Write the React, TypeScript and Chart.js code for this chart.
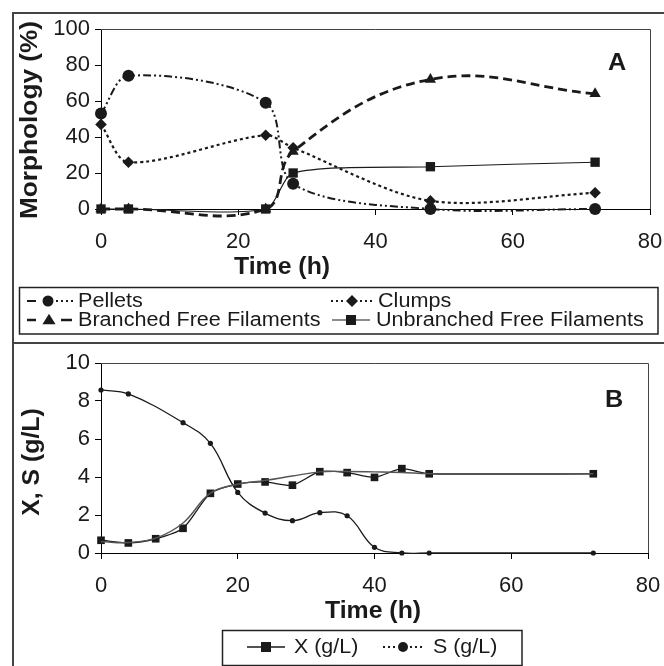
import React, { useEffect, useRef } from "react";
import { Chart, registerables } from "chart.js";

Chart.register(...registerables);

// ---------- Panel A data (Morphology %) ----------
const hoursA = [0, 4, 24, 28, 48, 72];
const pellets = [53, 74, 59, 14, 0, 0];
const clumps = [47, 26, 41, 34, 4.5, 9];
const branched = [0, 0, 0, 32, 72, 64];
const unbranched = [0, 0, 0, 20, 23.5, 26];
const labelsA = ["Pellets", "Clumps", "Branched Free Filaments", "Unbranched Free Filaments"];

// ---------- Panel B data (X, S g/L) ----------
const hoursX = [0, 4, 8, 12, 16, 20, 24, 28, 32, 36, 40, 44, 48, 72];
const biomassX = [0.67, 0.53, 0.75, 1.3, 3.14, 3.63, 3.74, 3.57, 4.28, 4.23, 3.98, 4.44, 4.17, 4.17];
const biomassFit = [0.6, 0.55, 0.78, 1.58, 3.15, 3.62, 3.82, 4.05, 4.27, 4.29, 4.27, 4.24, 4.18, 4.17];
const hoursS = [0, 4, 12, 16, 20, 24, 28, 32, 36, 40, 44, 48, 72];
const substrateS = [8.58, 8.37, 6.86, 5.77, 3.19, 2.1, 1.7, 2.12, 1.96, 0.3, 0, 0, 0];
const labelsB = ["X (g/L)", "S (g/L)"];

const FAMILY = "'Liberation Sans', Arial, Helvetica, sans-serif";
const INK = "#1a1a1a";

const pts = (xs: number[], ys: number[]) => xs.map((x, i) => ({ x, y: ys[i] }));

function drawText(ctx: CanvasRenderingContext2D, s: string, x: number, y: number, font: string, sx = 1, rotate = false, align: CanvasTextAlign = "center") {
  ctx.save();
  ctx.translate(x, y);
  if (rotate) ctx.rotate(-Math.PI / 2);
  ctx.scale(sx, 1);
  ctx.font = font;
  ctx.fillStyle = INK;
  ctx.textAlign = align;
  ctx.textBaseline = "middle";
  ctx.fillText(s, 0, 0);
  ctx.restore();
}

function drawMarker(ctx: CanvasRenderingContext2D, style: string, x: number, y: number, r: number) {
  ctx.save();
  ctx.fillStyle = INK;
  ctx.beginPath();
  if (style === "circle") {
    ctx.arc(x, y, r, 0, Math.PI * 2);
  } else if (style === "rectRot") {
    ctx.moveTo(x - r, y);
    ctx.lineTo(x, y - r);
    ctx.lineTo(x + r, y);
    ctx.lineTo(x, y + r);
    ctx.closePath();
  } else if (style === "triangle") {
    const h = r * 1.6;
    ctx.moveTo(x, y - h * 0.6);
    ctx.lineTo(x + r, y + h * 0.4);
    ctx.lineTo(x - r, y + h * 0.4);
    ctx.closePath();
  } else {
    ctx.rect(x - r, y - r, 2 * r, 2 * r);
  }
  ctx.fill();
  ctx.restore();
}

function seg(ctx: CanvasRenderingContext2D, x1: number, x2: number, y: number, dash: number[], width: number) {
  ctx.save();
  ctx.strokeStyle = INK;
  ctx.lineWidth = width;
  ctx.setLineDash(dash);
  ctx.beginPath();
  ctx.moveTo(x1, y);
  ctx.lineTo(x2, y);
  ctx.stroke();
  ctx.restore();
}

function frameBorder(chart: any) {
  const { ctx, chartArea: a } = chart;
  ctx.save();
  ctx.strokeStyle = "#444";
  ctx.lineWidth = 1;
  ctx.beginPath();
  ctx.moveTo(a.left, a.top + 0.5);
  ctx.lineTo(a.right + 0.5, a.top + 0.5);
  ctx.lineTo(a.right + 0.5, a.bottom);
  ctx.stroke();
  ctx.restore();
}

const decorA = {
  id: "decorA",
  beforeDatasetsDraw(chart: any) {
    frameBorder(chart);
  },
  afterDraw(chart: any) {
    const ctx: CanvasRenderingContext2D = chart.ctx;
    ctx.save();
    ctx.strokeStyle = "#444";
    ctx.lineWidth = 2;
    ctx.beginPath();
    ctx.moveTo(664, 13);
    ctx.lineTo(13, 13);
    ctx.lineTo(13, 342);
    ctx.stroke();
    ctx.restore();
    drawText(ctx, "Morphology (%)", 31, 120, `bold 23px ${FAMILY}`, 1.14, true);
    drawText(ctx, "Time (h)", 282, 268, `bold 23px ${FAMILY}`, 1.08);
    drawText(ctx, "A", 617, 63, `bold 24px ${FAMILY}`, 1.05);
    ctx.save();
    ctx.strokeStyle = "#222";
    ctx.lineWidth = 1.5;
    ctx.strokeRect(19.5, 287.5, 638.5, 46.5);
    ctx.restore();
    const f = `20px ${FAMILY}`;
    seg(ctx, 27, 36, 301, [], 2);
    seg(ctx, 56, 75, 301, [2, 3], 2);
    drawMarker(ctx, "circle", 48, 301, 5.5);
    drawText(ctx, labelsA[0], 78, 301, f, 1.08, false, "left");
    seg(ctx, 331, 344, 301, [2, 3], 2);
    seg(ctx, 360, 374, 301, [2, 3], 2);
    drawMarker(ctx, "rectRot", 352, 301, 6);
    drawText(ctx, labelsA[1], 378, 301, f, 1.08, false, "left");
    seg(ctx, 27, 36, 320, [], 2.5);
    seg(ctx, 61, 72, 320, [], 2.5);
    drawMarker(ctx, "triangle", 49, 320, 6.5);
    drawText(ctx, labelsA[2], 78, 320, f, 1.08, false, "left");
    seg(ctx, 332, 370, 320, [], 1.2);
    drawMarker(ctx, "rect", 351, 320, 5);
    drawText(ctx, labelsA[3], 376, 320, f, 1.08, false, "left");
  },
};

const decorB = {
  id: "decorB",
  beforeDatasetsDraw(chart: any) {
    frameBorder(chart);
  },
  afterDraw(chart: any) {
    const ctx: CanvasRenderingContext2D = chart.ctx;
    ctx.save();
    ctx.strokeStyle = "#444";
    ctx.lineWidth = 2;
    ctx.beginPath();
    ctx.moveTo(664, 1);
    ctx.lineTo(13, 1);
    ctx.lineTo(13, 324);
    ctx.stroke();
    ctx.restore();
    drawText(ctx, "X, S (g/L)", 33, 120, `bold 23px ${FAMILY}`, 1.08, true);
    drawText(ctx, "Time (h)", 373, 270, `bold 23px ${FAMILY}`, 1.08);
    drawText(ctx, "B", 614, 58, `bold 24px ${FAMILY}`, 1.05);
    ctx.save();
    ctx.strokeStyle = "#222";
    ctx.lineWidth = 1.5;
    ctx.strokeRect(222.5, 288.5, 299.5, 35);
    ctx.restore();
    const f = `21px ${FAMILY}`;
    seg(ctx, 247, 285, 305, [], 1.5);
    drawMarker(ctx, "rect", 266, 305, 5);
    drawText(ctx, labelsB[0], 294, 305, f, 1.02, false, "left");
    seg(ctx, 383, 397, 305, [2, 3], 2);
    seg(ctx, 410, 423, 305, [2, 3], 2);
    drawMarker(ctx, "circle", 403, 305, 5);
    drawText(ctx, labelsB[1], 433, 305, f, 1.02, false, "left");
  },
};

function axisOpts(min: number, max: number, step: number, pad: number, size: number, isX: boolean) {
  return {
    type: "linear" as const,
    min,
    max,
    ticks: {
      stepSize: step,
      padding: pad,
      maxRotation: 0,
      autoSkip: false,
      color: INK,
      font: { family: FAMILY, size: 22 },
    },
    grid: { drawOnChartArea: false, drawTicks: true, tickLength: 6, color: "#000", lineWidth: 1 },
    border: { display: true, color: "#000", width: 1 },
    afterFit: (s: any) => {
      if (isX) s.height = size;
      else s.width = size;
      s.paddingLeft = 0;
      s.paddingRight = 0;
      s.paddingTop = 0;
      s.paddingBottom = 0;
    },
  };
}

const commonOpts = {
  responsive: false,
  animation: false as const,
  devicePixelRatio: 1,
  events: [] as any[],
  plugins: { legend: { display: false }, tooltip: { enabled: false } },
  elements: { line: { capBezierPoints: false } },
};

function ChartA() {
  const ref = useRef<HTMLCanvasElement>(null);
  useEffect(() => {
    const ds = (label: string, ys: number[], style: string, r: number, dash: number[], w: number, t: number) => ({
      label,
      data: pts(hoursA, ys),
      borderColor: INK,
      backgroundColor: INK,
      borderWidth: w,
      borderDash: dash,
      pointStyle: style,
      pointRadius: r,
      pointBorderWidth: 0,
      tension: t,
      clip: false,
    });
    const chart = new Chart(ref.current!, {
      type: "line",
      data: {
        datasets: [
          ds(labelsA[3], unbranched, "rect", 6.6, [], 1.1, 0.25),
          ds(labelsA[2], branched, "triangle", 6.5, [9, 5], 2.8, 0.4),
          ds(labelsA[1], clumps, "rectRot", 5.8, [3, 3], 2.2, 0.3),
          ds(labelsA[0], pellets, "circle", 6, [8, 3, 2, 3, 2, 3], 2, 0.32),
        ] as any,
      },
      options: {
        ...commonOpts,
        layout: { padding: { left: 0, right: 14, top: 29, bottom: 0 } },
        scales: {
          x: axisOpts(0, 80, 20, 14, 133, true),
          y: axisOpts(0, 100, 20, 5, 101, false),
        },
      } as any,
      plugins: [decorA],
    });
    return () => chart.destroy();
  }, []);
  return <canvas ref={ref} width={664} height={342} style={{ position: "absolute", left: 0, top: 0 }} />;
}

function ChartB() {
  const ref = useRef<HTMLCanvasElement>(null);
  useEffect(() => {
    const chart = new Chart(ref.current!, {
      type: "line",
      data: {
        datasets: [
          {
            label: "X fit",
            data: pts(hoursX, biomassFit),
            borderColor: "#555",
            borderWidth: 1.4,
            pointRadius: 0,
            tension: 0.4,
            clip: false,
          },
          {
            label: labelsB[0],
            data: pts(hoursX, biomassX),
            borderColor: INK,
            backgroundColor: INK,
            borderWidth: 1.3,
            pointStyle: "rect",
            pointRadius: 5.4,
            pointBorderWidth: 0,
            tension: 0.25,
            clip: false,
          },
          {
            label: labelsB[1],
            data: pts(hoursS, substrateS),
            borderColor: INK,
            backgroundColor: INK,
            borderWidth: 1.3,
            pointStyle: "circle",
            pointRadius: 2.6,
            pointBorderWidth: 0,
            tension: 0.4,
            clip: false,
          },
        ] as any,
      },
      options: {
        ...commonOpts,
        layout: { padding: { left: 0, right: 16, top: 21, bottom: 0 } },
        scales: {
          x: axisOpts(0, 80, 20, 14, 113, true),
          y: axisOpts(0, 10, 2, 5, 101, false),
        },
      } as any,
      plugins: [decorB],
    });
    return () => chart.destroy();
  }, []);
  return <canvas ref={ref} width={664} height={324} style={{ position: "absolute", left: 0, top: 342 }} />;
}

export default function App() {
  return (
    <div style={{ position: "absolute", left: 0, top: 0, width: 664, height: 666, background: "#fff", overflow: "hidden" }}>
      <ChartA />
      <ChartB />
    </div>
  );
}
